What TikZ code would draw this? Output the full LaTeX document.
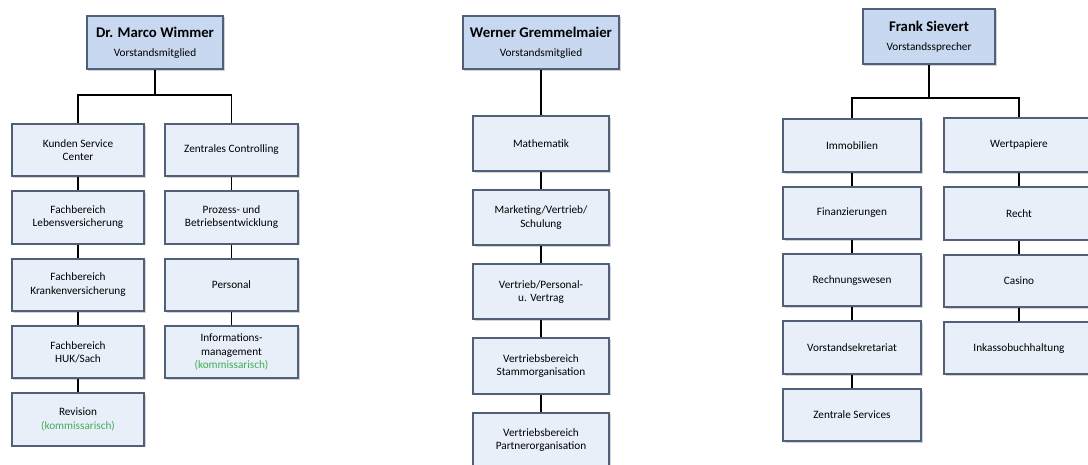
\documentclass[tikz,border=0pt]{standalone}
\usepackage{fontspec}
\setmainfont{Carlito}
\usetikzlibrary{positioning,shadows}
\definecolor{unitfill}{HTML}{E8EFF9}
\definecolor{headfill}{HTML}{C8D8F0}
\definecolor{boxedge}{HTML}{4F6078}
\definecolor{komgreen}{HTML}{3DAE55}

\begin{document}
\begin{tikzpicture}[
    x=0.25mm, y=-0.25mm,
    node distance=3.25mm,
    unit/.style={rectangle, draw=boxedge, line width=1.4pt, fill=unitfill, align=center,
                 minimum width=33.2mm, minimum height=13.1mm, inner sep=1pt,
                 font=\fontsize{8}{9.5}\selectfont,
                 drop shadow={shadow xshift=0.45mm, shadow yshift=-0.45mm, opacity=0.35}},
    head/.style={unit, fill=headfill, minimum height=13.4mm},
    link/.style={line width=0.8pt, black}
]
\useasboundingbox (0,0) rectangle (1088,465);
% heads
\node[head, minimum width=34.2mm] (wim) at (155,42.5) {{\fontsize{10.5}{12}\selectfont\bfseries Dr. Marco Wimmer}\\[4pt]Vorstandsmitglied};
\node[head, minimum width=39.2mm] (grem) at (541,42.5) {{\fontsize{10.5}{12}\selectfont\bfseries Werner Gremmelmaier}\\[4pt]Vorstandsmitglied};
\node[head, minimum width=33.2mm, minimum height=13.9mm] (siev) at (929,36.5) {{\fontsize{10.5}{12}\selectfont\bfseries Frank Sievert}\\[4pt]Vorstandssprecher};
% Wimmer
\node[unit] (ksc) at (78,150) {Kunden Service\\Center};
\node[unit, below=of ksc] (fbl) {Fachbereich\\Lebensversicherung};
\node[unit, below=of fbl] (fbk) {Fachbereich\\Krankenversicherung};
\node[unit, below=of fbk] (fbh) {Fachbereich\\HUK/Sach};
\node[unit, below=of fbh] (rev) {Revision\\{\color{komgreen}(kommissarisch)}};
\node[unit] (zc) at (231.5,150) {Zentrales Controlling};
\node[unit, below=of zc] (pbe) {Prozess- und\\Betriebsentwicklung};
\node[unit, below=of pbe] (pers) {Personal};
\node[unit, below=of pers] (inf) {Informations-\\management\\{\color{komgreen}(kommissarisch)}};
% Gremmelmaier
\node[unit, minimum width=33.9mm, minimum height=13.8mm] (math) at (541,143.5) {Mathematik};
\node[unit, minimum width=33.9mm, minimum height=13.8mm, below=4.25mm of math] (mvs) {Marketing/Vertrieb/\\Schulung};
\node[unit, minimum width=33.9mm, minimum height=13.8mm, below=4.25mm of mvs] (vpv) {Vertrieb/Personal-\\u. Vertrag};
\node[unit, minimum width=33.9mm, minimum height=13.8mm, below=4.25mm of vpv] (vst) {Vertriebsbereich\\Stammorganisation};
\node[unit, minimum width=33.9mm, minimum height=13.8mm, below=4.25mm of vst] (vpa) {Vertriebsbereich\\Partnerorganisation};
% Sievert
\node[unit, minimum width=34.6mm] (immo) at (852,145.5) {Immobilien};
\node[unit, minimum width=34.6mm, below=of immo] (fin) {Finanzierungen};
\node[unit, minimum width=34.6mm, below=of fin] (rw) {Rechnungswesen};
\node[unit, minimum width=34.6mm, below=of rw] (vsk) {Vorstandsekretariat};
\node[unit, minimum width=34.6mm, below=of vsk] (zs) {Zentrale Services};
\node[unit, minimum width=37.5mm, minimum height=13.6mm] (wp) at (1019,145) {Wertpapiere};
\node[unit, minimum width=37.5mm, below=of wp] (recht) {Recht};
\node[unit, minimum width=37.5mm, below=of recht] (cas) {Casino};
\node[unit, minimum width=37.5mm, below=of cas] (ink) {Inkassobuchhaltung};
% connectors
\coordinate (wimbus) at (155,95);
\coordinate (sievbus) at (929,98);
\draw[link] (wim.south) -- (wimbus) -| (ksc.north); \draw[link] (wimbus) -| (zc.north);
\draw[link] (ksc) -- (fbl); \draw[link] (fbl) -- (fbk); \draw[link] (fbk) -- (fbh); \draw[link] (fbh) -- (rev);
\draw[link] (zc) -- (pbe); \draw[link] (pbe) -- (pers); \draw[link] (pers) -- (inf);
\draw[link] (grem) -- (math); \draw[link] (math) -- (mvs); \draw[link] (mvs) -- (vpv);
\draw[link] (vpv) -- (vst); \draw[link] (vst) -- (vpa);
\draw[link] (siev.south) -- (sievbus) -| (immo.north); \draw[link] (sievbus) -| (wp.north);
\draw[link] (immo) -- (fin); \draw[link] (fin) -- (rw); \draw[link] (rw) -- (vsk); \draw[link] (vsk) -- (zs);
\draw[link] (wp) -- (recht); \draw[link] (recht) -- (cas); \draw[link] (cas) -- (ink);
\end{tikzpicture}
\end{document}
